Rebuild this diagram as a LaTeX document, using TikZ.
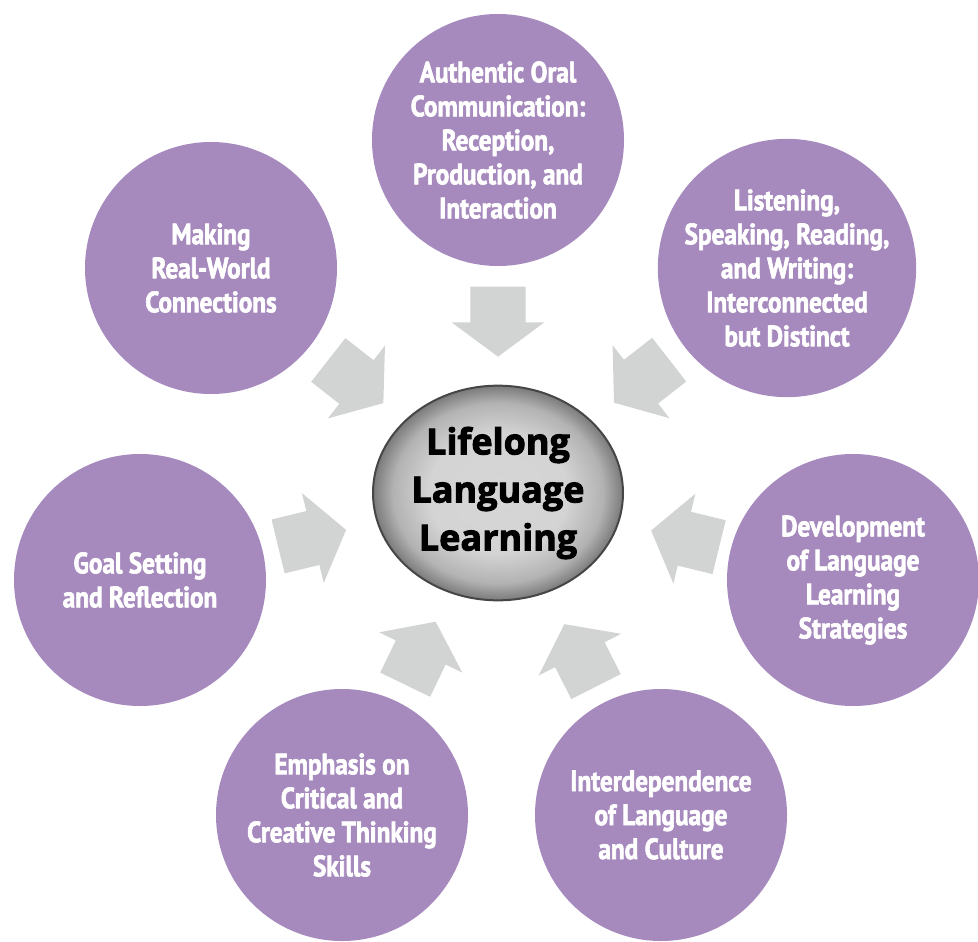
\documentclass[tikz,border=0pt]{standalone}
\usepackage{fontspec}
\usepackage{tikz}
\usetikzlibrary{shapes.geometric, shapes.arrows, calc}
\newfontfamily\topicfont[FakeStretch=0.86, FakeBold=2.2]{PT Sans Bold}
\newfontfamily\hubfont[FakeBold=2.6]{Open Sans Bold}
\definecolor{topiccolor}{RGB}{166, 137, 189}
\definecolor{arrowcolor}{RGB}{210, 212, 211}
\definecolor{hubedge}{RGB}{70, 70, 70}
\pgfdeclareradialshading{hubshading}{\pgfpointorigin}{color(0bp)=(black!16); color(14bp)=(black!17); color(21bp)=(black!30); color(25bp)=(black!52); color(50bp)=(black!52)}

\begin{document}
\begin{tikzpicture}[x=0.75pt, y=-0.75pt,
    topic/.style={circle, fill=topiccolor, minimum size=189pt, inner sep=0pt, text=white, align=center, font=\topicfont\fontsize{22}{25.5}\selectfont},
    hubnode/.style={ellipse, draw=hubedge, line width=1.5pt, shading=hubshading, minimum width=187.5pt, minimum height=161pt, inner sep=0pt, align=center, font=\hubfont\fontsize{27}{36}\selectfont},
    blockarrow/.style={single arrow, fill=arrowcolor, inner xsep=0pt, inner ysep=20.6pt, minimum height=52.5pt, single arrow head extend=13.9pt, single arrow tip angle=107, sloped, allow upside down, anchor=tip}]
    \useasboundingbox (0, 0) rectangle (978, 942);

    % Centre
    \node[hubnode] (hub) at (498, 493) {Lifelong\\Language\\Learning};

    % Surrounding topics
    \node[topic] (oral) at (498, 140) {Authentic Oral\\Communication:\\Reception,\\Production, and\\Interaction};
    \node[topic] (skills) at (787, 268) {Listening,\\Speaking, Reading,\\and Writing:\\Interconnected\\but Distinct};
    \node[topic] (strategies) at (853, 580) {Development\\of Language\\Learning\\Strategies};
    \node[topic] (culture) at (661, 815) {Interdependence\\of Language\\and Culture};
    \node[topic] (thinking) at (342, 815) {Emphasis on\\Critical and\\Creative Thinking\\Skills};
    \node[topic] (goals) at (140, 580) {Goal Setting\\and Reflection};
    \node[topic] (realworld) at (211, 268) {Making\\Real-World\\Connections};

    % Arrows into the centre
    \foreach \src/\dist in {oral/102pt, skills/110pt, strategies/118pt, culture/110pt, thinking/107pt, goals/117pt, realworld/109pt}
        \path (\src) -- ($(hub)!\dist!(\src)$) node[blockarrow, at end] {};

\end{tikzpicture}
\end{document}
